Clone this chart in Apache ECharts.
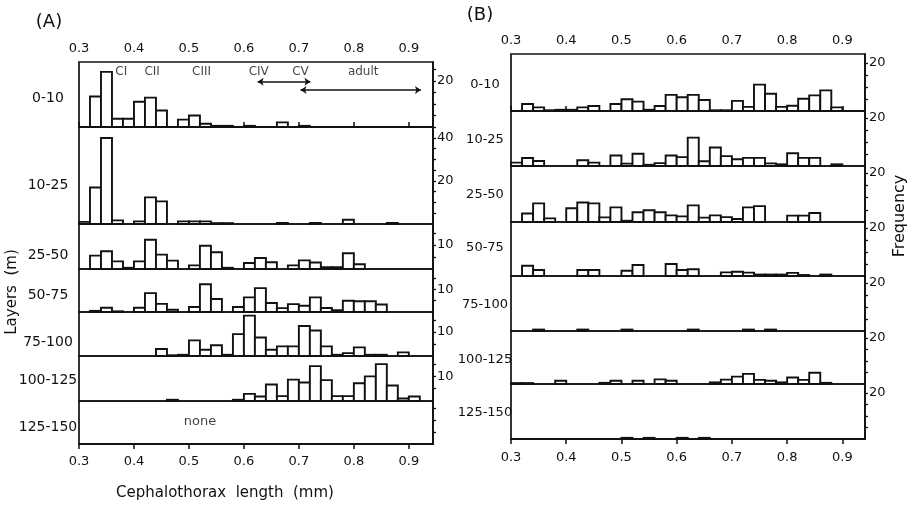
<!DOCTYPE html>
<html>
<head>
<meta charset="utf-8">
<script src="https://cdn.jsdelivr.net/npm/echarts@6/dist/echarts.min.js"></script>
<style>
  html, body { margin: 0; padding: 0; background: #fff; }
  #chart { width: 910px; height: 510px; }
</style>
</head>
<body>
<div id="chart"></div>
<script>
// lower edges of the 0.02 mm length classes
const binStarts = [0.30, 0.32, 0.34, 0.36, 0.38, 0.40, 0.42, 0.44, 0.46, 0.48, 0.50, 0.52, 0.54, 0.56, 0.58, 0.60,
                   0.62, 0.64, 0.66, 0.68, 0.70, 0.72, 0.74, 0.76, 0.78, 0.80, 0.82, 0.84, 0.86, 0.88, 0.90, 0.92];
const BIN_WIDTH = 0.02;

const layers = ['0-10', '10-25', '25-50', '50-75', '75-100', '100-125', '125-150'];

// (A) frequencies per layer
const a0_10    = [0, 13.3, 24, 3.6, 3.6, 11, 12.8, 7.2, 0, 3.2, 5, 1.4, 0.5, 0.5, 0, 0.5, 0, 0, 2, 0, 0.5, 0, 0, 0, 0, 0, 0, 0, 0, 0, 0, 0];
const a10_25   = [1, 17, 40, 1.7, 0, 1.2, 12.4, 10.5, 0, 1.2, 1.2, 1.2, 0.4, 0.4, 0, 0, 0, 0, 0.5, 0, 0, 0.5, 0, 0, 2, 0, 0, 0, 0.5, 0, 0, 0];
const a25_50   = [0, 5.6, 7.4, 3.2, 0.5, 3.2, 12.2, 6, 3.5, 0, 1.5, 9.7, 7, 0.5, 0, 2.5, 4.6, 2.8, 0, 1.5, 3.6, 2.7, 0.8, 0.8, 6.6, 2, 0, 0, 0, 0, 0, 0];
const a50_75   = [0, 0.5, 1.9, 0.3, 0, 1.9, 8.4, 3.6, 1, 0, 2.2, 12.3, 5.8, 0, 2.2, 6.5, 10.6, 4, 1.7, 3.5, 2.8, 6.5, 1.8, 0.8, 5, 4.8, 4.8, 3.3, 0, 0, 0, 0];
const a75_100  = [0, 0, 0, 0, 0, 0, 0, 2.9, 0.3, 0.5, 6.5, 2.6, 4.5, 0.5, 9.1, 16.8, 7.7, 2.6, 4, 4, 12.5, 10.6, 4, 0.5, 1.2, 3.6, 0.5, 0.5, 0, 1.5, 0, 0];
const a100_125 = [0, 0, 0, 0, 0, 0, 0, 0, 0.5, 0, 0, 0, 0, 0, 0.5, 2.9, 1.8, 6.7, 2, 8.7, 7.5, 14.2, 8.5, 2, 2, 7.2, 10, 15, 6.3, 1, 1.8, 0];
const a125_150 = [0, 0, 0, 0, 0, 0, 0, 0, 0, 0, 0, 0, 0, 0, 0, 0, 0, 0, 0, 0, 0, 0, 0, 0, 0, 0, 0, 0, 0, 0, 0, 0];

// (B) frequencies per layer
const b0_10    = [0, 2.9, 1.5, 0.3, 0.5, 0.5, 1.5, 2.1, 0, 2.9, 4.9, 3.9, 0.5, 2.1, 6.7, 5.7, 6.7, 4.6, 0.3, 0.3, 4.2, 1.7, 11, 7.2, 1.7, 2.2, 5.1, 6.5, 8.6, 1.5, 0, 0];
const b10_25   = [1.4, 3.3, 2.1, 0, 0, 0, 2.4, 1.4, 0, 4.4, 1, 5.1, 0.5, 1.2, 4.4, 3.7, 11.8, 2, 7.7, 4.1, 2.8, 3.4, 3.4, 1.1, 0.7, 5.3, 3.4, 3.4, 0, 0.7, 0, 0];
const b25_50   = [0, 3.5, 7.6, 1.5, 0, 5.6, 8, 7.6, 1.9, 6, 0.5, 4, 4.8, 4, 2.7, 2.3, 6.8, 1.8, 2.7, 2, 1.2, 6, 6.5, 0, 0, 2.6, 2.6, 3.7, 0, 0, 0, 0];
const b50_75   = [0, 4.3, 2.5, 0, 0, 0, 2.5, 2.5, 0, 0, 2.2, 4.6, 0, 0, 5, 2.5, 2.8, 0, 0, 1.5, 1.8, 1.4, 0.6, 0.6, 0.6, 1.3, 0.4, 0, 0.6, 0, 0, 0];
const b75_100  = [0, 0, 0.6, 0, 0, 0, 0.6, 0, 0, 0, 0.6, 0, 0, 0, 0, 0, 0.6, 0, 0, 0, 0, 0.6, 0, 0.6, 0, 0, 0, 0, 0, 0, 0, 0];
const b100_125 = [0.4, 0.4, 0, 0, 1.4, 0, 0, 0, 0.5, 1.4, 0, 1.4, 0, 2, 1.4, 0, 0, 0, 0.7, 1.9, 3.2, 4.4, 1.8, 1.4, 0.7, 2.8, 1.8, 4.9, 0.5, 0, 0, 0];
const b125_150 = [0, 0, 0, 0, 0, 0, 0, 0, 0, 0, 0.5, 0, 0.5, 0, 0, 0.5, 0, 0.5, 0, 0, 0, 0, 0, 0, 0, 0, 0, 0, 0, 0, 0, 0];

// right-hand frequency tick labels
const freqLabelsA = [[20], [40, 20], [10], [10], [10], [10], []];
const freqLabelsB = [[20], [20], [20], [20], [20], [20], [20]];

// developmental stage annotations in (A) 0-10 m
const stageNames = ['CI', 'CII', 'CIII', 'CIV', 'CV', 'adult'];
const stageX = [0.377, 0.433, 0.523, 0.627, 0.703, 0.817];
const stageRanges = [[0.625, 0.721], [0.703, 0.922]];

// layout
const FONT = 'DejaVu Sans';
const INK = '#111';
const colA = { left: 79, width: 354, xMax: 0.944, tops: [62, 127, 224, 269, 312, 356, 401], bottom: 444,
               yMax: [28.3, 45.1, 18.8, 19.1, 18.3, 18.3, 18] };
const colB = { left: 511, width: 354, xMax: 0.941, tops: [54, 111, 166, 222, 276, 331, 384], bottom: 439,
               yMax: [23.75, 22.9, 22.9, 22.5, 22.9, 23, 23.9] };

const countsA = [a0_10, a10_25, a25_50, a50_75, a75_100, a100_125, a125_150];
const countsB = [b0_10, b10_25, b25_50, b50_75, b75_100, b100_125, b125_150];

function renderBar(params, api) {
  const start = api.value(0);
  const p0 = api.coord([start, api.value(1)]);
  const p1 = api.coord([start + BIN_WIDTH, 0]);
  return {
    type: 'rect',
    shape: { x: p0[0], y: p0[1], width: p1[0] - p0[0], height: p1[1] - p0[1] },
    style: { fill: '#fff', stroke: INK, lineWidth: 1.9 }
  };
}

const grids = [], xAxes = [], yAxes = [], series = [];

function addColumn(col, counts, freqLabels, bottomMargin) {
  for (let i = 0; i < counts.length; i++) {
    const idx = grids.length;
    const top = col.tops[i];
    const bottom = i + 1 < col.tops.length ? col.tops[i + 1] : col.bottom;
    const first = i === 0, last = i === counts.length - 1;
    grids.push({ left: col.left, top: top, width: col.width, height: bottom - top,
                 show: true, borderColor: INK, borderWidth: 1.7, backgroundColor: 'transparent' });
    xAxes.push({
      gridIndex: idx, type: 'value', min: 0.3, max: col.xMax, interval: 0.1,
      position: first ? 'top' : 'bottom', show: first || last,
      axisLine: { lineStyle: { color: INK, width: 2 } },
      axisTick: { length: 5, lineStyle: { color: INK, width: 1.5 } },
      axisLabel: { showMaxLabel: false, color: INK, fontSize: 13, fontFamily: FONT,
                   margin: first ? 7 : bottomMargin },
      splitLine: { show: false }
    });
    const labs = freqLabels[i];
    yAxes.push({
      gridIndex: idx, type: 'value', position: 'right', min: 0, max: col.yMax[i], interval: 5,
      axisLine: { show: true, lineStyle: { color: INK, width: 1.7 } },
      axisTick: { show: true, length: 3, lineStyle: { color: INK, width: 1.3 } },
      axisLabel: { showMinLabel: false, showMaxLabel: false, color: INK, fontSize: 13, fontFamily: FONT, margin: 4,
                   formatter: v => (labs.indexOf(v) >= 0 ? String(v) : '') },
      splitLine: { show: false }
    });
    series.push({
      type: 'custom', xAxisIndex: idx, yAxisIndex: idx, silent: true, renderItem: renderBar,
      data: binStarts.map((b, k) => [b, counts[i][k]]).filter(d => d[1] > 0)
    });
  }
}

addColumn(colA, countsA, freqLabelsA, 11);
addColumn(colB, countsB, freqLabelsB, 12);

// stage names and ranges on panel (A) 0-10
series.push({
  type: 'scatter', xAxisIndex: 0, yAxisIndex: 0, silent: true, symbolSize: 1,
  itemStyle: { color: 'transparent' },
  data: stageNames.map((n, i) => ({ name: n, value: [stageX[i], 23.9] })),
  label: { show: true, position: 'inside', formatter: '{b}', color: INK, fontSize: 12, fontFamily: FONT },
  markLine: {
    silent: true, symbol: ['arrow', 'arrow'], symbolSize: 6, label: { show: false },
    lineStyle: { color: INK, width: 1.5, type: 'solid' },
    data: [
      [{ coord: [stageRanges[0][0], 19.7] }, { coord: [stageRanges[0][1], 19.7] }],
      [{ coord: [stageRanges[1][0], 16.1] }, { coord: [stageRanges[1][1], 16.1] }]
    ]
  }
});
// "none" in (A) 125-150
series.push({
  type: 'scatter', xAxisIndex: 6, yAxisIndex: 6, silent: true, symbolSize: 1,
  itemStyle: { color: 'transparent' },
  data: [{ name: 'none', value: [0.52, 9.2] }],
  label: { show: true, position: 'inside', formatter: '{b}', color: INK, fontSize: 13, fontFamily: FONT }
});

function txt(text, x, y, size, rot) {
  return { type: 'text', x: x, y: y, rotation: rot || 0, silent: true,
           style: { text: text, fill: INK, fontSize: size, fontFamily: FONT, align: 'center', verticalAlign: 'middle' } };
}

const layerYA = [98, 185, 255, 295, 342, 380, 427];
const layerYB = [85, 140, 195, 248, 305, 360, 413];
const graphic = [
  txt('(A)', 49, 22, 18),
  txt('(B)', 480, 15, 18),
  txt('Layers  (m)', 12, 292, 15, Math.PI / 2),
  txt('Frequency', 900, 216, 16, Math.PI / 2),
  txt('Cephalothorax  length  (mm)', 225, 493, 15)
];
layers.forEach((l, i) => {
  graphic.push(txt(l, 48, layerYA[i], 14));
  graphic.push(txt(l, 485, layerYB[i], 13));
});

const chart = echarts.init(document.getElementById('chart'));
chart.setOption({
  animation: false,
  backgroundColor: '#fff',
  textStyle: { fontFamily: FONT },
  grid: grids,
  xAxis: xAxes,
  yAxis: yAxes,
  series: series,
  graphic: graphic
});
</script>
</body>
</html>
